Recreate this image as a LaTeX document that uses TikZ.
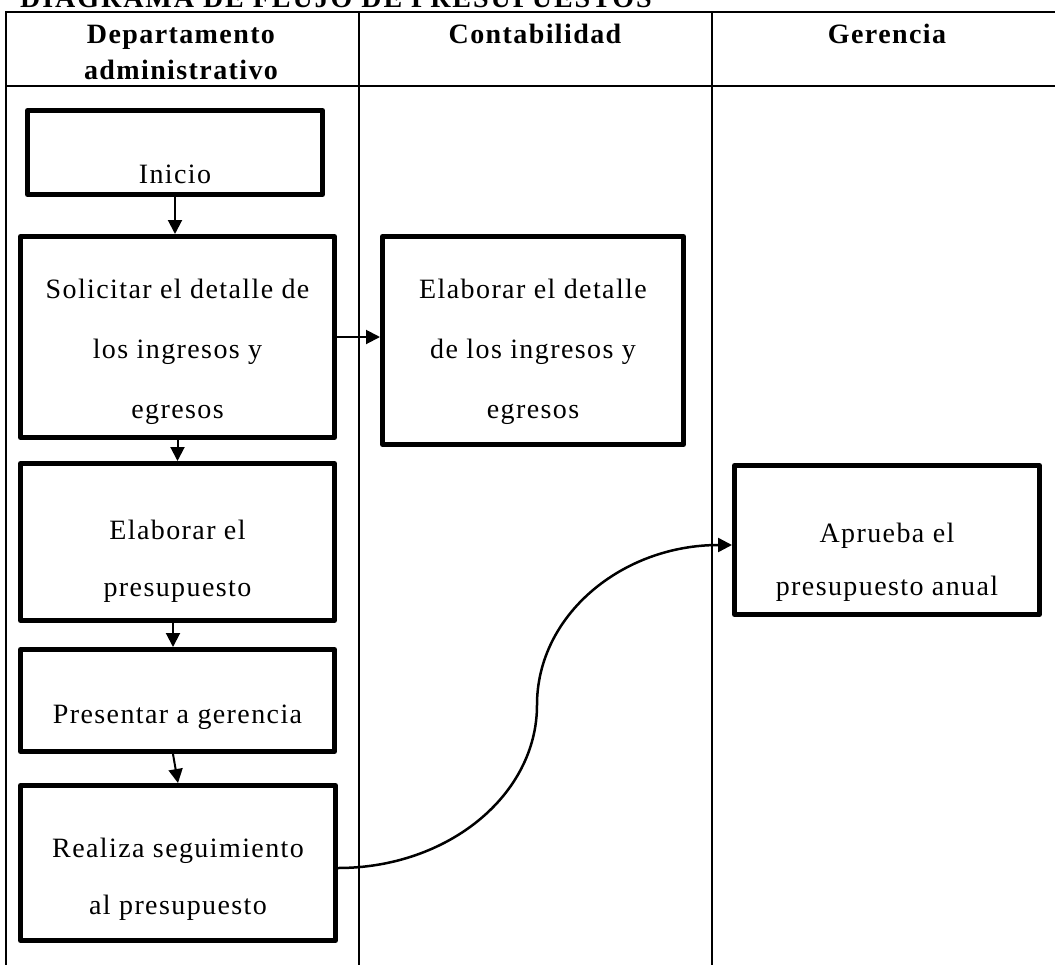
\documentclass[tikz,border=0pt]{standalone}
\usepackage{fontspec}
\setmainfont{Liberation Serif}[LetterSpace=5]
\usetikzlibrary{arrows.meta}

% text of a flow step: lowered by #1, line pitch #2, lines #3
\newcommand\flowtext[3]{\raisebox{#1}[\height][\depth]{\fontsize{28}{#2}\selectfont\begin{tabular}{@{}c@{}}#3\end{tabular}}}
% column heading, first baseline on the node's base
\newcommand\headcell[2]{\fontsize{28}{#1}\selectfont\bfseries\begin{tabular}[t]{@{}c@{}}#2\end{tabular}}

\tikzset{
  lane/.style={line width=2pt},
  stepbox/.style={draw, line width=5pt, line join=round, inner sep=0pt},
  flow/.style={line width=2pt, -{Triangle[length=14pt,width=14pt]}},
  headlabel/.style={anchor=base, inner sep=0pt},
}

\begin{document}
\begin{tikzpicture}[x=1pt, y=-1pt]
\useasboundingbox (0,0) rectangle (1055,964);

% title
\node[anchor=base west, inner sep=0pt] (title) at (20,7)
  {\fontsize{28}{34}\selectfont\bfseries\addfontfeature{LetterSpace=7}DIAGRAMA DE FLUJO DE PRESUPUESTOS};

% swimlane grid
\draw[lane] (1062,12) -- (6,12) -- (6,970);
\draw[lane] (6,86) -- (1062,86);
\draw[lane] (359,12) -- (359,970);
\draw[lane] (712,12) -- (712,970);

% lane headings
\node[headlabel] (hadm) at (181,43) {\headcell{36}{Departamento\\administrativo}};
\node[headlabel] (hcon) at (535,43) {\headcell{36}{Contabilidad}};
\node[headlabel] (hger) at (887,43) {\headcell{36}{Gerencia}};

% process steps
\node[stepbox, minimum width=295pt, minimum height=84pt] (ini) at (175,152.5)
  {\flowtext{-19pt}{58}{Inicio}};
\node[stepbox, minimum width=314pt, minimum height=201pt] (sol) at (177.5,337)
  {\flowtext{-9pt}{60}{Solicitar el detalle de\\los ingresos y\\egresos}};
\node[stepbox, minimum width=301pt, minimum height=208pt] (det) at (533,340.5)
  {\flowtext{-5.5pt}{60}{Elaborar el detalle\\de los ingresos y\\egresos}};
\node[stepbox, minimum width=314pt, minimum height=157pt] (pre) at (177.5,542)
  {\flowtext{-15pt}{57}{Elaborar el\\presupuesto}};
\node[stepbox, minimum width=314pt, minimum height=102pt] (pg) at (177.5,700.5)
  {\flowtext{-11pt}{58}{Presentar a gerencia}};
\node[stepbox, minimum width=315pt, minimum height=155pt] (seg) at (178,863)
  {\flowtext{-12pt}{57}{Realiza seguimiento\\al presupuesto}};
\node[stepbox, minimum width=305pt, minimum height=149pt] (apr) at (887,540)
  {\flowtext{-18pt}{53}{Aprueba el\\presupuesto anual}};

% connectors
\draw[flow] (ini.south) -- (ini.south |- sol.north);
\draw[flow] (sol.east) -- (sol.east -| det.west);
\draw[flow] (sol.south) -- (sol.south |- pre.north);
\draw[flow] ([xshift=-4.5pt]pre.south) -- ([xshift=-4.5pt]pre.south |- pg.north);
\draw[flow] ([xshift=-4.5pt]pg.south) -- (seg.north);
\coordinate (bend) at (537,705);
\draw[flow, line width=2.5pt] ([yshift=-5pt]seg.east)
  .. controls +(110,0) and +(0,90) .. (bend)
  .. controls +(0,-90) and +(-110,0) .. ([yshift=-5pt]apr.west);
\end{tikzpicture}
\end{document}
